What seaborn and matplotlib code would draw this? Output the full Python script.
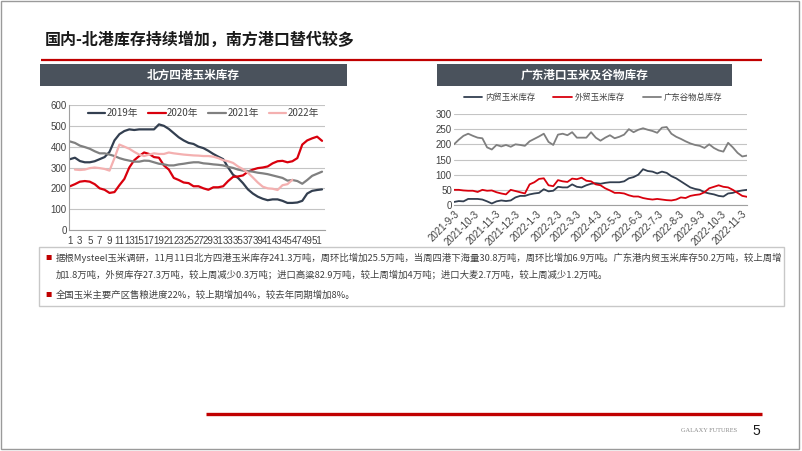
"""Slide 5: north-port corn stocks and Guangdong port corn/grain stocks."""
import matplotlib

matplotlib.use("Agg")
import matplotlib.pyplot as plt
import numpy as np
import pandas as pd
import seaborn as sns
from matplotlib.patches import Rectangle

W, H = 802, 451

# ---- north four ports corn stock (10k t), weekly ----
WEEKS = list(range(1, 53))
Y2019 = [340, 347, 331, 325, 325, 330, 340, 350, 375, 430, 460, 475, 483, 480, 483, 483,
         483, 483, 507, 500, 485, 465, 445, 430, 418, 413, 400, 393, 380, 365, 352, 340,
         300, 265, 250, 225, 195, 175, 160, 150, 143, 147, 147, 140, 130, 130, 132, 140,
         175, 188, 192, 195]
Y2020 = [210, 220, 232, 235, 232, 220, 200, 193, 178, 182, 215, 245, 300, 335, 355, 372,
         365, 350, 347, 310, 290, 250, 240, 228, 225, 210, 210, 200, 193, 205, 205, 210,
         235, 255, 257, 262, 280, 290, 297, 300, 305, 320, 330, 332, 325, 330, 345, 410,
         430, 440, 448, 428]
Y2021 = [425, 418, 405, 398, 390, 378, 368, 368, 362, 355, 345, 338, 333, 328, 328, 333,
         332, 325, 318, 315, 310, 310, 315, 318, 322, 325, 325, 320, 318, 315, 313, 310,
         303, 298, 290, 285, 283, 280, 275, 272, 268, 262, 256, 250, 237, 240, 235, 222,
         240, 260, 270, 280]
Y2022 = [np.nan, 290, 288, 290, 297, 300, 297, 293, 285, 345, 410, 400, 390, 375, 362, 355,
         362, 368, 365, 365, 372, 368, 365, 362, 360, 358, 357, 355, 355, 352, 345, 335,
         330, 322, 305, 292, 275, 252, 228, 208, 200, 198, 192, 215, 220, 241] + [np.nan] * 6
NORTH_LABELS = ["2019年", "2020年", "2021年", "2022年"]
NORTH_COLORS = ["#333f50", "#d9000d", "#808080", "#f4b0b0"]

# ---- Guangdong port stocks (10k t), weekly from 2021-9-3 ----
PORT_START = "2021-09-03"
GZ_DOMESTIC = [10, 13, 12, 20, 20, 20, 18, 12, 5, 12, 15, 13, 15, 25, 30, 30, 35, 38, 40, 52,
               45, 47, 60, 58, 58, 68, 60, 58, 65, 70, 72, 70, 73, 75, 75, 75, 78, 88, 92, 100,
               118, 112, 110, 104, 110, 106, 95, 88, 78, 68, 58, 53, 50, 42, 38, 35, 30, 28,
               38, 40, 45, 48, 50]
GZ_IMPORT = [50, 50, 48, 47, 47, 43, 50, 47, 48, 42, 38, 35, 50, 46, 42, 38, 68, 75, 86, 88,
             65, 62, 82, 78, 76, 87, 85, 90, 80, 78, 68, 65, 55, 48, 40, 40, 38, 32, 28, 28,
             23, 20, 18, 20, 18, 16, 15, 18, 25, 23, 30, 33, 35, 42, 55, 60, 65, 60, 58, 50,
             40, 30, 27]
GZ_TOTAL = [200, 215, 228, 235, 228, 222, 220, 190, 183, 198, 193, 198, 192, 200, 198, 195,
            210, 218, 226, 235, 208, 198, 232, 235, 230, 240, 222, 222, 222, 240, 222, 212,
            222, 230, 220, 225, 232, 250, 240, 248, 253, 248, 244, 238, 255, 257, 235, 225,
            218, 210, 203, 198, 195, 188, 200, 188, 180, 176, 205, 190, 172, 160, 163]
PORT_LABELS = ["内贸玉米库存", "外贸玉米库存", "广东谷物总库存"]
PORT_COLORS = ["#333f50", "#d9000d", "#7f7f7f"]

TITLE = "国内-北港库存持续增加，南方港口替代较多"
LEFT_HEAD = "北方四港玉米库存"
RIGHT_HEAD = "广东港口玉米及谷物库存"
NOTES = [
    ("■", "据根Mysteel玉米调研，11月11日北方四港玉米库存241.3万吨，周环比增加25.5万吨，当周四港下海量30.8万吨，周环比增加6.9万吨。广东港内贸玉米库存50.2万吨，较上周增"),
    ("", "加1.8万吨，外贸库存27.3万吨，较上周减少0.3万吨；进口高粱82.9万吨，较上周增加4万吨；进口大麦2.7万吨，较上周减少1.2万吨。"),
    ("■", "全国玉米主要产区售粮进度22%，较上期增加4%，较去年同期增加8%。"),
]

RED = "#c00000"
HEAD_BG = "#4a525c"
TICK_C = "#404040"
GRID_C = "#c4c4c4"

sns.set_theme(style="white")
plt.rcParams["font.family"] = ["Noto Sans CJK SC", "DejaVu Sans"]
plt.rcParams["axes.unicode_minus"] = False


def box(x0, y0, x1, y1):
    """pixel box (top-left origin) -> figure rect"""
    return [x0 / W, 1 - y1 / H, (x1 - x0) / W, (y1 - y0) / H]


fig = plt.figure(figsize=(W / 100, H / 100), dpi=100)

# decoration layer in pixel coordinates
bg = fig.add_axes([0, 0, 1, 1])
bg.set_xlim(0, W)
bg.set_ylim(H, 0)
bg.axis("off")
bg.add_patch(Rectangle((1, 1), W - 4, H - 3, fill=False, ec="#9a9a9a", lw=1.0))
bg.text(45, 40, TITLE, fontsize=11.5, fontweight="bold", color="#1a1a1a", va="center")
bg.plot([41, 762], [60, 60], color=RED, lw=1.6, solid_capstyle="butt")
for (x0, x1, label) in [(40, 347, LEFT_HEAD), (437, 732, RIGHT_HEAD)]:
    bg.add_patch(Rectangle((x0, 64), x1 - x0, 22, color=HEAD_BG, lw=0))
    bg.text((x0 + x1) / 2, 75, label, color="white", fontsize=8.4, fontweight="bold",
            ha="center", va="center")

# notes box
bg.add_patch(Rectangle((39, 247), 745, 59, fill=False, ec="#c8c8c8", lw=1.0))
for (bullet, line), y in zip(NOTES, [258, 275, 295]):
    if bullet:
        bg.text(48, y, bullet, color=RED, fontsize=4.5, ha="center", va="center")
    bg.text(56, y, line, color="#404040", fontsize=6.75, va="center")

# footer
bg.plot([206, 762], [414, 414], color=RED, lw=2.4, solid_capstyle="butt")
bg.text(737, 431, "GALAXY FUTURES", fontsize=4.6, color="#8a8a8a", ha="right", va="center",
        family="Liberation Serif")
bg.text(756, 431, "5", fontsize=10, color="#1a1a1a", ha="center", va="center",
        family="Liberation Sans")

# ---- left chart ----
north = pd.DataFrame({"week": WEEKS, "2019年": Y2019, "2020年": Y2020,
                      "2021年": Y2021, "2022年": Y2022})
north = north.melt("week", var_name="year", value_name="stock").dropna()
ax1 = fig.add_axes(box(69, 105, 325, 230))
sns.lineplot(data=north, x="week", y="stock", hue="year", hue_order=NORTH_LABELS,
             palette=NORTH_COLORS, linewidth=1.6, ax=ax1)
ax1.set_xlim(0.8, 52.6)
ax1.set_ylim(0, 600)
ax1.set_yticks(range(0, 601, 100))
ax1.set_xticks(range(1, 52, 2))
ax1.grid(True, axis="y", color=GRID_C, lw=0.8)
ax1.set_axisbelow(True)
ax1.set_xlabel("")
ax1.set_ylabel("")
ax1.tick_params(axis="both", labelsize=7, colors=TICK_C, pad=1.5)
ax1.tick_params(axis="x", length=2.5, color="#a0a0a0")
ax1.tick_params(axis="y", length=0)
for lab in ax1.get_xticklabels() + ax1.get_yticklabels():
    lab.set_family("Liberation Sans")
for s in ("top", "right"):
    ax1.spines[s].set_visible(False)
for s in ("left", "bottom"):
    ax1.spines[s].set_color("#a0a0a0")
    ax1.spines[s].set_linewidth(0.8)
ax1.legend(ncol=4, loc="center", bbox_to_anchor=(0.525, 0.935), frameon=False, fontsize=7,
           handlelength=1.8, columnspacing=1.0, handletextpad=0.15, labelcolor=TICK_C)

# ---- right chart ----
dates = pd.date_range(PORT_START, periods=len(GZ_TOTAL), freq="7D")
port = pd.DataFrame({"date": dates, PORT_LABELS[0]: GZ_DOMESTIC,
                     PORT_LABELS[1]: GZ_IMPORT, PORT_LABELS[2]: GZ_TOTAL})
port = port.melt("date", var_name="series", value_name="stock")
ax2 = fig.add_axes(box(454, 114, 747, 205))
sns.lineplot(data=port, x="date", y="stock", hue="series", hue_order=PORT_LABELS,
             palette=PORT_COLORS, linewidth=1.3, ax=ax2)
ax2.set_xlim(dates[0], dates[-1])
ax2.set_ylim(0, 300)
ax2.set_yticks(range(0, 301, 50))
month_ticks = pd.date_range("2021-09-01", "2022-11-01", freq="MS") + pd.Timedelta(days=2)
ax2.set_xticks(month_ticks)
ax2.set_xticklabels([f"{d.year}-{d.month}-{d.day}" for d in month_ticks], rotation=45,
                    ha="right", rotation_mode="anchor")
ax2.grid(True, axis="y", color=GRID_C, lw=0.8)
ax2.set_axisbelow(True)
ax2.set_xlabel("")
ax2.set_ylabel("")
ax2.tick_params(axis="both", labelsize=7, colors=TICK_C, pad=1.5)
ax2.tick_params(axis="x", length=0, pad=3)
ax2.tick_params(axis="y", length=0)
for lab in ax2.get_xticklabels() + ax2.get_yticklabels():
    lab.set_family("Liberation Sans")
for s in ("top", "right", "left"):
    ax2.spines[s].set_visible(False)
ax2.spines["bottom"].set_color("#a0a0a0")
ax2.spines["bottom"].set_linewidth(0.8)
ax2.legend(ncol=3, loc="center", bbox_to_anchor=(0.475, 1.18), frameon=False, fontsize=6,
           handlelength=2.2, columnspacing=2.2, handletextpad=0.3, labelcolor=TICK_C)

fig.savefig("out.png", dpi=100, facecolor="white")
